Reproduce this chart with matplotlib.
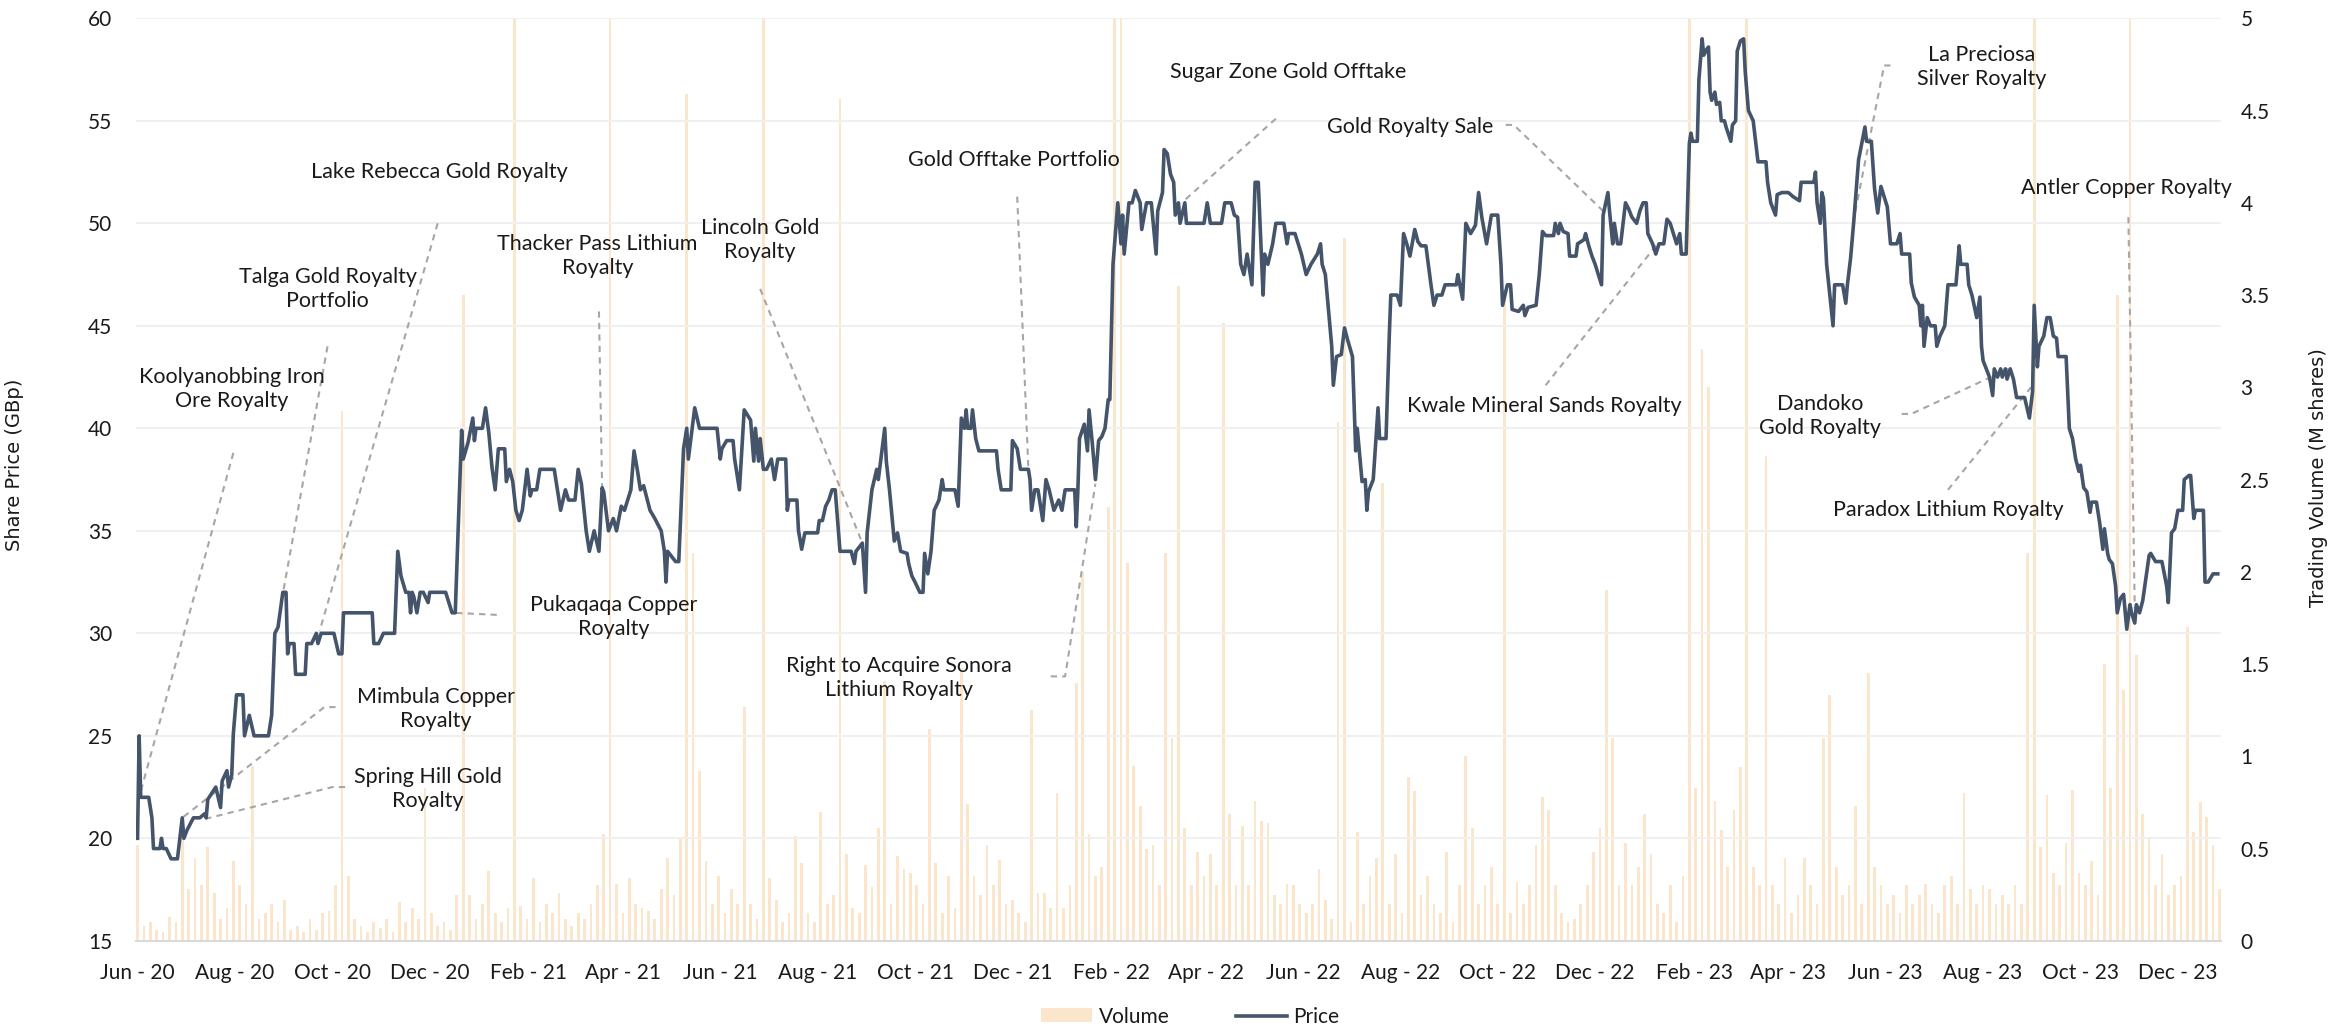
import numpy as np
import pandas as pd
import matplotlib
matplotlib.use("Agg")
import matplotlib.pyplot as plt
import matplotlib.dates as mdates
from matplotlib.ticker import FuncFormatter, MultipleLocator
from matplotlib.patches import Patch
from matplotlib.lines import Line2D

plt.rcParams['font.family'] = ['Lato', 'DejaVu Sans']

START = pd.Timestamp('2020-06-01')

# Share price (GBp), as (days since 1 Jun 2020, price)
price_2020 = [(0,20),(1,25),(2,22),(7,22),(9,21),(10,19.5),(14,19.5),(15,20),(16,19.5),(18,19.5),(21,19),(25,19),
    (28,21),(29,20),(31,20.4),(35,21),(39,21),(42,21.2),(43,21),(44,21.9),(49,22.5),(52,21.5),(53,22.8),(56,23.3),
    (57,22.5),(59,23.1),(60,25.1),(62,27),(66,27),(67,25),(70,26),(73,25),(82,25),(84,26),(86,30),(88,30.3),(91,32),
    (93,32),(94,29),(95,29.5),(98,29.5),(99,28),(105,28),(106,29.5),(109,29.5),(112,30),(113,29.5),(115,30),(123,30),
    (126,29),(128,29),(129,31),(147,31),(148,29.5),(151,29.5),(154,30),(161,30),(163,34),(165,32.8),(168,32),(170,32),
    (171,31),(172,32),(173,31.8),(175,31),(177,32),(179,32),(182,31.5),(183,32),(193,32),(197,31),(199,31),(203,39.9),
    (204,38.5),(207,39.3),(210,40.5),(211,39.4),(212,40)]
price_2021 = [(216,40),(218,41),(220,39.8),(222,38.1),(224,37),(225,38),(226,39),(230,39),(231,37.4),(233,38),
    (235,37.4),(237,36),(239,35.5),(241,36),(244,38),(246,36.7),(247,37),(250,37),(252,38),(261,38),(265,36),(268,37),
    (270,36.5),(274,36.5),(276,38),(278,37.3),(281,35),(283,34),(286,35),(289,34),(291,37.1),(292,36.9),(295,35),
    (298,35.6),(300,35),(303,36.2),(305,36),(309,37),(311,38.9),(313,38),(315,37),(317,37.2),(321,36),(324,35.6),
    (328,35),(330,34),(331,32.5),(332,34),(337,33.5),(339,33.5),(342,39),(344,40),(345,38.5),(349,41),(352,40),
    (355,40),(363,40),(365,38.5),(366,39),(369,39.4),(373,39.4),(374,38.5),(377,37),(380,40.9),(384,40.4),(386,38.4),
    (387,40),(389,38.4),(390,39.5),(392,38),(394,38),(397,38.5),(399,37.5),(401,38.5),(406,38.5),(407,36),(408,36.5),
    (413,36.5),(414,35),(416,34.1),(418,34.9),(426,34.9),(427,35.5),(429,35.5),(431,36.2),(433,36.5),(435,37),
    (437,37),(440,34),(447,34),(449,33.4),(450,34),(454,34.4),(456,32),(457,34.9),(460,37),(463,38),(464,37.5),
    (468,40),(469,38.4),(471,37),(474,34.5),(476,34.9),(478,34),(482,33.9),(483,33.4),(485,32.8),(487,32.5),(490,32),
    (492,32),(493,33.9),(495,32.9),(497,34),(499,36),(502,36.5),(504,37.5),(505,37),(512,37),(514,36.2),(516,40.5),
    (518,40),(519,40.9),(520,40),(522,40),(523,40.9),(525,39.5),(527,38.9),(538,38.9),(539,38),(541,37),(547,37),
    (548,39.4),(551,39),(553,38),(558,38),(559,37.5),(560,36),(562,37),(564,37),(566,36),(567,35.5),(569,37.5),
    (571,37),(574,36),(577,36.5)]
price_2022 = [(579,36),(581,37),(587,37),(588,35.2),(589,37),(590,39.5),(593,40.2),(595,38.9),(596,40.9),(598,39.3),
    (600,37.5),(602,39.4),(604,39.6),(606,40),(608,41.4),(609,41.4),(611,48),(614,51),(616,49),(617,50.4),(618,48.5),
    (621,51),(623,51),(625,51.6),(628,51),(629,49.7),(632,51),(635,51),(638,48.5),(639,50.6),(642,51.5),(643,53.6),
    (645,53.4),(647,52.4),(649,52),(650,50.4),(652,51),(653,50),(656,51),(657,50),(668,50),(670,51),(672,50),(679,50),
    (681,51),(685,51),(687,50.4),(689,50.3),(691,48),(693,47.5),(695,48.5),(698,47),(700,52),(702,52),(705,46.5),
    (706,48.5),(708,48),(711,49),(713,50),(718,50),(720,49),(721,49.5),(725,49.5),(727,49),(729,48.5),(732,47.5),
    (735,48),(739,48.5),(741,49),(742,48),(744,47.5),(748,44),(749,42.1),(751,43.5),(754,43.6),(756,44.9),(758,44.3),
    (761,43.5),(763,38.9),(764,40),(767,37.4),(769,37.5),(770,36),(771,36.9),(774,37.5),(777,41),(778,39.5),(782,39.5),
    (784,44.4),(785,46.5),(789,46.5),(791,46),(793,49.5),(795,49),(797,48.4),(800,49.7),(802,49.1),(804,48.9),
    (807,48.9),(810,47.1),(812,46),(814,46.5),(817,46.5),(819,47),(826,47),(827,47.5),(830,46.3),(832,50),(835,49.5),
    (838,49.9),(840,51.5),(842,50.3),(845,49),(848,50.4),(852,50.4),(854,48),(855,46),(858,47),(860,47),(861,45.8),
    (865,45.7),(868,46),(869,45.5),(871,45.9),(876,46),(878,47.5),(880,49.6),(882,49.4),(887,49.4),(888,50),
    (890,49.5),(891,50),(893,49.6),(896,49.5),(897,48.4),(901,48.4),(902,49),(906,49.2),(907,49.5),(909,48.9),
    (911,48.4),(913,48),(915,47.5),(917,47),(918,50.4),(921,51.5),(922,50.6),(924,49),(925,50),(927,49),(929,49),
    (932,51),(934,50.7),(936,50.3),(939,50),(941,50.6),(943,51)]
price_2023 = [(945,51),(946,49.5),(949,49),(951,48.5),(953,49),(956,49),(958,50.2),(960,50),(962,49.5),(964,49),
    (966,49.5),(967,48.5),(970,48.5),(972,53.9),(973,54.4),(974,54),(977,54),(978,57),(980,59),(981,58.2),(983,58.5),
    (984,58.6),(985,56.4),(986,56),(988,56.4),(989,55.8),(991,55.9),(992,55),(994,55),(995,54.7),(998,54),(999,54.8),
    (1001,55),(1002,58.4),(1004,58.9),(1006,59),(1007,57.4),(1009,55.5),(1012,55),(1015,53),(1020,53),(1021,52),
    (1023,51),(1026,50.4),(1027,51.4),(1030,51.5),(1034,51.5),(1037,51.3),(1041,51.1),(1042,52),(1050,52),(1051,52.5),
    (1052,51),(1054,50),(1055,51.5),(1056,51.2),(1058,48),(1060,46.5),(1062,45),(1063,47),(1068,47),(1070,46.1),
    (1071,47),(1073,48.3),(1075,50.1),(1078,53.1),(1082,54.7),(1083,54),(1086,54),(1088,51.7),(1090,50.5),(1092,51.8),
    (1094,51.3),(1096,50.8),(1098,49),(1102,49),(1104,49.5),(1105,48.5),(1110,48.5),(1111,47.1),(1113,46.4),(1116,46),
    (1117,45),(1118,46),(1119,44),(1121,45.4),(1123,45),(1126,45),(1127,44),(1129,44.5),(1132,45),(1134,47),(1139,47),
    (1141,48.9),(1142,48),(1146,48),(1147,47),(1149,46.5),(1152,45.4),(1154,46.4),(1155,44),(1156,43.3),(1160,42.5),
    (1162,41.6),(1163,42.9),(1165,42.5),(1167,42.9),(1168,42.5),(1170,42.9),(1171,42.4),(1173,42.9),(1175,42.4),
    (1177,41.5),(1182,41.5),(1185,40.5),(1187,41.8),(1188,46),(1190,43),(1191,44),(1194,44.5),(1196,45.4),(1198,45.4),
    (1200,44.5),(1202,44.4),(1203,43.5),(1208,43.5),(1210,40),(1212,39.5),(1214,38.5),(1216,37.9),(1217,38.2),
    (1219,37.1),(1221,36.9),(1223,35.9),(1224,36.4),(1227,36.4),(1229,35.4),(1231,34.1),(1232,35.1),(1234,33.9),
    (1235,33.6),(1237,33.4),(1239,32.3),(1240,31),(1242,31.7),(1244,31.9),(1246,30.2),(1248,31.4),(1249,31),
    (1251,30.5),(1252,31.4),(1254,31),(1256,31.6),(1258,32.7),(1260,33.8),(1261,33.9),(1264,33.5),(1268,33.5),
    (1271,32.3),(1272,31.5),(1274,34.9),(1276,35.1),(1278,36),(1281,36),(1282,37.5),(1285,37.7),(1286,37.7),
    (1288,35.6),(1289,36),(1294,36),(1295,32.5),(1297,32.5),(1300,32.9),(1303,32.9)]

# Trading volume (M shares), one reading every 4 days from 1 Jun 2020 (tall spikes run off the top)
vol_step_days = 4
vol_m = [
    0.52, 0.08, 0.1, 0.06, 0.05, 0.13, 0.1, 0.64, 0.28, 0.45,
    0.3, 0.51, 0.26, 0.12, 0.18, 0.43, 0.3, 0.2, 0.95, 0.12,
    0.15, 0.2, 0.1, 0.22, 0.06, 0.08, 0.05, 0.12, 0.06, 0.15,
    0.16, 0.3, 2.87, 0.35, 0.12, 0.08, 0.05, 0.1, 0.07, 0.12,
    0.05, 0.21, 0.1, 0.18, 0.12, 0.83, 0.15, 0.08, 0.1, 0.06,
    0.25, 3.5, 0.25, 0.12, 0.2, 0.38, 0.15, 0.1, 0.18, 5.2,
    0.19, 0.12, 0.34, 0.1, 0.2, 0.15, 0.26, 0.12, 0.08, 0.15,
    0.12, 0.2, 0.3, 0.58, 5.2, 0.31, 0.15, 0.34, 0.2, 0.18,
    0.16, 0.12, 0.28, 0.45, 0.25, 0.56, 4.59, 2.1, 0.92, 0.43,
    0.2, 0.35, 0.15, 0.28, 0.2, 1.27, 0.2, 0.12, 5.2, 0.34,
    0.22, 0.1, 0.15, 0.57, 0.42, 0.15, 0.1, 0.7, 0.2, 0.25,
    4.56, 0.47, 0.18, 0.15, 0.41, 0.29, 0.61, 1.41, 0.2, 0.46,
    0.39, 0.37, 0.3, 0.2, 1.15, 0.42, 0.15, 0.35, 0.18, 1.48,
    0.74, 0.35, 0.25, 0.52, 0.3, 0.44, 0.2, 0.22, 0.15, 0.1,
    1.25, 0.26, 0.26, 0.18, 0.8, 0.18, 0.3, 1.4, 2.0, 0.58,
    0.35, 0.4, 2.35, 5.2, 5.2, 2.05, 0.95, 0.73, 0.5, 0.52,
    0.3, 2.1, 1.1, 3.55, 0.61, 0.3, 0.48, 0.35, 0.47, 0.3,
    3.35, 0.69, 0.3, 0.62, 0.3, 0.76, 0.65, 0.64, 0.25, 0.2,
    0.31, 0.3, 0.2, 0.15, 0.2, 0.39, 0.22, 0.12, 2.81, 3.81,
    0.1, 0.59, 0.2, 0.35, 0.45, 2.48, 0.2, 0.47, 0.15, 0.89,
    0.81, 0.25, 0.35, 0.2, 0.15, 0.48, 0.1, 0.3, 1.0, 0.61,
    0.2, 0.3, 0.4, 0.2, 3.5, 0.15, 0.32, 0.2, 0.3, 0.52,
    0.78, 0.71, 0.3, 0.15, 0.1, 0.12, 0.2, 0.3, 0.48, 0.61,
    1.9, 1.1, 0.3, 0.53, 0.3, 0.4, 0.69, 0.47, 0.2, 0.15,
    0.3, 0.1, 0.35, 5.2, 0.83, 3.21, 3.0, 0.76, 0.6, 0.4,
    0.71, 0.94, 5.2, 0.4, 0.3, 2.63, 0.3, 0.2, 0.45, 0.15,
    0.25, 0.45, 0.3, 0.2, 1.1, 1.33, 0.4, 0.25, 0.3, 0.73,
    0.2, 1.45, 0.4, 0.3, 0.2, 0.25, 0.15, 0.3, 0.2, 0.25,
    0.31, 0.2, 0.15, 0.3, 0.35, 0.2, 0.8, 0.28, 0.2, 0.3,
    0.28, 0.2, 0.25, 0.2, 0.3, 0.2, 2.1, 5.2, 0.51, 0.79,
    0.37, 0.3, 0.53, 0.82, 0.37, 0.3, 0.43, 0.25, 1.5, 0.83,
    3.5, 1.36, 5.2, 1.55, 0.69, 0.56, 0.3, 0.47, 0.25, 0.3,
    0.35, 1.7, 0.59, 0.75, 0.67, 0.52, 0.28]

# Deal call-outs: label, label position (day, GBp), leader line points
deals = [
    ("Koolyanobbing Iron\nOre Royalty", 59, 41.9, [(60, 38.8), (1, 22.0)]),
    ("Talga Gold Royalty\nPortfolio", 119, 46.8, [(119, 44.0), (90, 31.5)]),
    ("Lake Rebecca Gold Royalty", 189, 52.5, [(188, 50.0), (114, 30.1)]),
    ("Mimbula Copper\nRoyalty", 187, 26.3, [(124, 26.4), (117, 26.4), (28, 21.0)]),
    ("Spring Hill Gold\nRoyalty", 182, 22.4, [(130, 22.5), (122, 22.5), (40, 20.9)]),
    ("Pukaqaqa Copper\nRoyalty", 298, 30.8, [(225, 30.9), (198, 31.0)]),
    ("Thacker Pass Lithium\nRoyalty", 288, 48.4, [(289, 45.7), (291, 37.1)]),
    ("Lincoln Gold\nRoyalty", 390, 49.2, [(390, 46.8), (454, 34.4)]),
    ("Gold Offtake Portfolio", 549, 53.1, [(551, 51.3), (558, 38.0)]),
    ("Right to Acquire Sonora\nLithium Royalty", 477, 27.8, [(572, 27.9), (581, 27.9), (600, 37.3)]),
    ("Sugar Zone Gold Offtake", 721, 57.4, [(713, 55.1), (654, 51.0)]),
    ("Gold Royalty Sale", 797, 54.7, [(857, 54.8), (862, 54.8), (918, 50.6)]),
    ("Kwale Mineral Sands Royalty", 881, 41.1, [(882, 42.1), (952, 49.0)]),
    ("La Preciosa\nSilver Royalty", 1155, 57.6, [(1098, 57.7), (1094, 57.7), (1075, 50.2)]),
    ("Dandoko\nGold Royalty", 1054, 40.6, [(1105, 40.7), (1111, 40.7), (1172, 42.9)]),
    ("Paradox Lithium Royalty", 1134, 36.0, [(1134, 37.0), (1186, 42.0)]),
    ("Antler Copper Royalty", 1246, 51.7, [(1247, 50.3), (1251, 31.2)]),
]


def to_dates(days):
    return START + pd.to_timedelta(np.asarray(days), unit='D')


price_pts = price_2020 + price_2021 + price_2022 + price_2023
price_days = [p[0] for p in price_pts]
price_vals = [p[1] for p in price_pts]
vol_dates = to_dates(np.arange(len(vol_m)) * vol_step_days)

PRICE_COL = '#44546A'
VOL_COL = '#FCE6CB'
TXT = '#1A1A1A'

fig = plt.figure(figsize=(23.48, 10.28), dpi=100)
ax = fig.add_axes([0.0579, 0.0848, 0.888, 0.8974])
ax2 = ax.twinx()

ax2.bar(vol_dates, vol_m, width=1.7, color=VOL_COL, linewidth=0, zorder=1)
ax2.set_ylim(0, 5)

ax.set_zorder(ax2.get_zorder() + 1)
ax.patch.set_visible(False)
ax.plot(to_dates(price_days), price_vals, color=PRICE_COL, lw=2.6, zorder=3)
ax.set_ylim(15, 60)
ax.set_xlim(to_dates([-1])[0], to_dates([1305])[0])

ax.yaxis.set_major_locator(MultipleLocator(5))
ax2.yaxis.set_major_locator(MultipleLocator(0.5))
ax2.yaxis.set_major_formatter(FuncFormatter(lambda v, _: f"{v:g}"))
ax.xaxis.set_major_locator(mdates.MonthLocator(bymonth=[2, 4, 6, 8, 10, 12]))
ax.xaxis.set_major_formatter(mdates.DateFormatter('%b - %y'))

ax.yaxis.grid(True, color='#F0F0F0', lw=1.5, zorder=0)
for a in (ax, ax2):
    for s in ('top', 'left', 'right', 'bottom'):
        a.spines[s].set_visible(False)
ax.spines['bottom'].set_visible(True)
ax.spines['bottom'].set_color('#D9D9D9')
ax.spines['bottom'].set_linewidth(1.5)

ax.tick_params(axis='y', length=0, labelsize=15, colors=TXT, pad=17)
ax.tick_params(axis='x', length=0, labelsize=15, colors=TXT, pad=16)
ax2.tick_params(axis='y', length=0, labelsize=15, colors=TXT, pad=14)

ax.set_ylabel("Share Price (GBp)", family='DejaVu Sans', fontsize=14, color=TXT)
ax.yaxis.set_label_coords(-0.0535, 0.516)
ax2.set_ylabel("Trading Volume (M shares)", family='DejaVu Sans', fontsize=14, color=TXT,
               rotation=90)
ax2.yaxis.set_label_coords(1.042, 0.502)

for label, tx, ty, leader in deals:
    ld = [p[0] for p in leader]
    lp = [p[1] for p in leader]
    ax.plot(to_dates(ld), lp, color='#A6A6A6', lw=1.5, dashes=(3, 2.5), zorder=2, clip_on=False)
    ax.text(to_dates([tx])[0], ty, label, ha='center', va='center', multialignment='center',
            fontsize=15.5, color=TXT, linespacing=1.25, zorder=4, clip_on=False)

handles = [Patch(facecolor=VOL_COL, edgecolor='none', label='Volume'),
           Line2D([0], [0], color=PRICE_COL, lw=2.6, label='Price')]
fig.legend(handles=handles, loc='center', bbox_to_anchor=(0.507, 0.011), ncol=2, frameon=False,
           fontsize=15, handlelength=2.45, handleheight=0.65, handletextpad=0.3, columnspacing=3.2,
           labelcolor=TXT)

fig.savefig('out.png', dpi=100)
